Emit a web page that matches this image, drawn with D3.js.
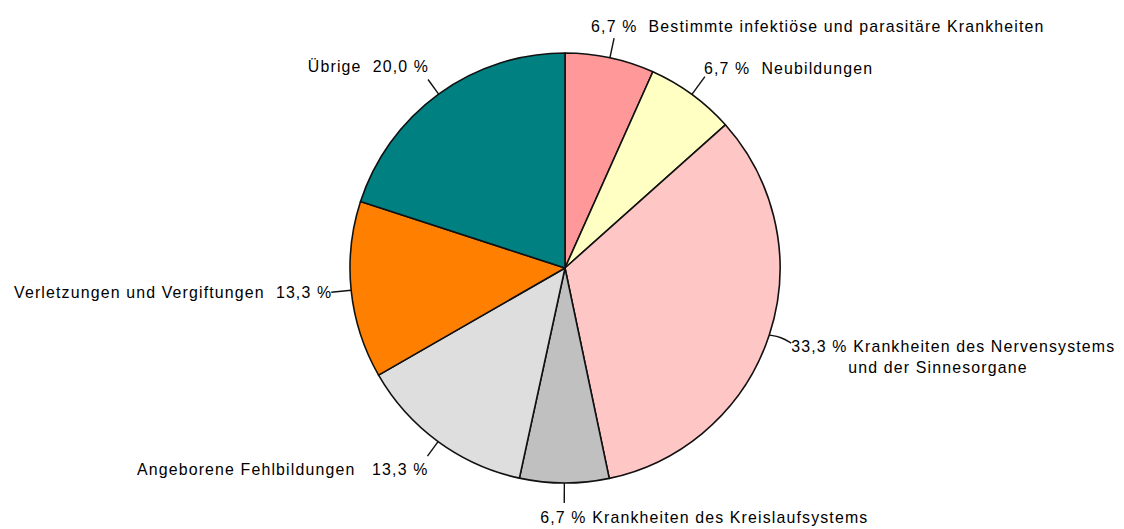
<!DOCTYPE html>
<html><head><meta charset="utf-8">
<script src="https://cdn.jsdelivr.net/npm/d3@7"></script>
<style>body{margin:0;background:#fff}svg{display:block}text{font-family:"Liberation Sans",Arial,sans-serif;font-size:15.9px;letter-spacing:1.15px;fill:#000;white-space:pre}</style>
</head><body><svg id="c" width="1124" height="529"></svg>
<script>
const categories = ["Bestimmte infektiöse und parasitäre Krankheiten","Neubildungen","Krankheiten des Nervensystems und der Sinnesorgane","Krankheiten des Kreislaufsystems","Angeborene Fehlbildungen","Verletzungen und Vergiftungen","Übrige"];
const values = [6.7, 6.7, 33.3, 6.7, 13.3, 13.3, 20.0];
const valueLabels = ["6,7 %","6,7 %","33,3 %","6,7 %","13,3 %","13,3 %","20,0 %"];
const colors = ["#FF9999","#FFFFC4","#FFC6C6","#C0C0C0","#DEDEDE","#FF8000","#008080"];

// label layout (positions of text relative to the leader line end)
const layout = [
  {len:20, lines:[{t:d=>d.v+"  "+d.c, dx:-23, dy:-6, anchor:"start"}]},
  {len:22, lines:[{t:d=>d.v+"  "+d.c, dx:-1, dy:-3, anchor:"start"}]},
  {len:0, bend:[12,2,22,8], lines:[{t:d=>d.v+" Krankheiten des Nervensystems", dx:0, dy:9, anchor:"start"},{t:d=>"und der Sinnesorgane", dx:57, dy:30, anchor:"start"}]},
  {len:20, lines:[{t:d=>d.v+" "+d.c, dx:-24, dy:20, anchor:"start"}]},
  {len:18, lines:[{t:d=>d.c+"   "+d.v, dx:1, dy:19, anchor:"end"}]},
  {len:20, lines:[{t:d=>d.c+"  "+d.v, dx:1, dy:6, anchor:"end"}]},
  {len:18, lines:[{t:d=>d.c+"  "+d.v, dx:1, dy:-8, anchor:"end"}]}
];

const data = categories.map((c,i)=>({c, value:values[i], v:valueLabels[i], color:colors[i], i}));
const svg = d3.select("#c");
const cx = 565, cy = 268, r = 215;
const g = svg.append("g").attr("transform",`translate(${cx},${cy})`);
const pie = d3.pie().value(d=>d.value).sort(null);
const arc = d3.arc().innerRadius(0).outerRadius(r);
const arcs = pie(data);
g.selectAll("path").data(arcs).join("path")
  .attr("d",arc).attr("fill",d=>d.data.color)
  .attr("stroke","#111").attr("stroke-width",1.6).attr("stroke-linejoin","round");

arcs.forEach((a,i)=>{
  const m = (a.startAngle+a.endAngle)/2;
  const sx = Math.sin(m), sy = -Math.cos(m);
  const p0 = [sx*r, sy*r];
  const L = layout[i];
  let pts, end;
  if (L.bend){
    const p1 = [p0[0]+L.bend[0], p0[1]+L.bend[1]];
    end = [p0[0]+L.bend[2], p0[1]+L.bend[3]];
    pts = [p0,p1,end];
  } else {
    end = [sx*(r+L.len), sy*(r+L.len)];
    pts = [p0,end];
  }
  g.append("path").attr("d",d3.line().curve(L.bend?d3.curveBasis:d3.curveLinear)(pts))
    .attr("fill","none").attr("stroke","#111").attr("stroke-width",1.4);
  L.lines.forEach(ln=>{
    g.append("text").attr("x",end[0]+ln.dx).attr("y",end[1]+ln.dy)
      .attr("text-anchor",ln.anchor).text(ln.t(a.data));
  });
});
</script></body></html>
